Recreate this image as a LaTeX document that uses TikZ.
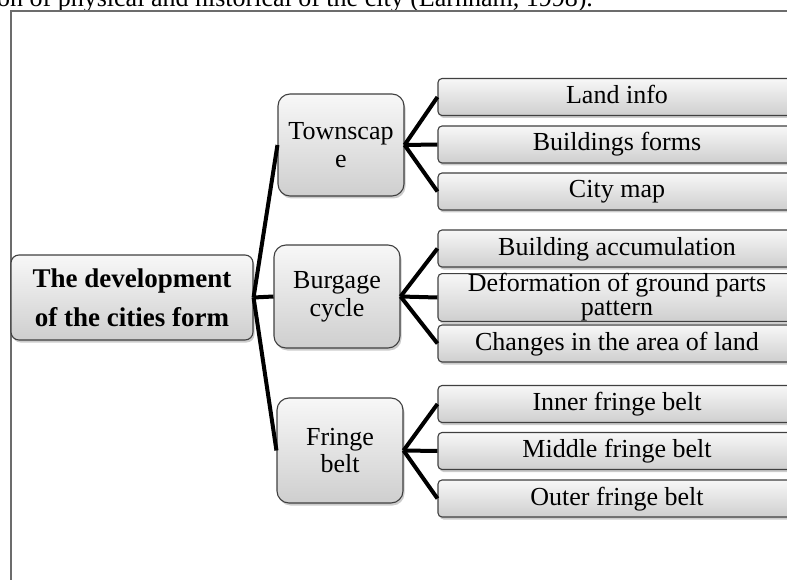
\documentclass[tikz,border=0pt]{standalone}
\usepackage{fontspec}
\setmainfont{Liberation Serif}
\usetikzlibrary{shadows}
\begin{document}
\begin{tikzpicture}[x=1pt,y=-1pt,
  basebox/.style={draw=black!75, line width=1.1pt, top color=gray!6, bottom color=gray!38,
    drop shadow={shadow xshift=1.5pt,shadow yshift=-2.5pt,opacity=0.4},
    align=center, inner sep=0pt},
  rootbox/.style={basebox, rounded corners=8pt, minimum width=242pt, minimum height=85pt,
    font=\fontsize{27}{39}\selectfont\bfseries},
  midbox/.style={basebox, rounded corners=12pt, minimum width=126pt, minimum height=102pt,
    font=\fontsize{26}{26}\selectfont},
  leafbox/.style={basebox, rounded corners=4pt, minimum width=358pt, minimum height=37pt,
    font=\fontsize{26}{24}\selectfont},
  leaftext/.style={text height=18pt, text depth=5pt},
  conn/.style={line width=4pt, black}
]
\useasboundingbox (0,0) rectangle (787,580);
\clip (0,0) rectangle (787,580);

% caption fragment and frame
\node[anchor=base west, inner sep=0pt, font=\fontsize{26}{30}\selectfont] (cap) at (-3,7)
  {on of physical and historical of the city (Earnham, 1998).};
\draw[gray!85!black, line width=1.4pt] (11,585) -- (11,11) -- (790,11);

% nodes
\node[rootbox] (root) at (132,297.5) {The development\\of the cities form};

\node[midbox] (town) at (341,145) {Townscap\\[2pt]e};
\node[midbox, minimum height=103pt] (burg) at (337,296.5) {Burgage\\[2pt]cycle};
\node[midbox, minimum height=105pt] (fring) at (340,450.5) {Fringe\\[1pt]belt};

\node[leafbox, leaftext] (l1) at (617,97) {Land info};
\node[leafbox, leaftext] (l2) at (617,144.5) {Buildings forms};
\node[leafbox, leaftext] (l3) at (617,191.5) {City map};

\node[leafbox, leaftext] (b1) at (617,248.5) {Building accumulation};
\node[leafbox] (b2) at (617,297.5) {Deformation of ground parts\\pattern};
\node[leafbox, leaftext] (b3) at (617,343.5) {Changes in the area of land};

\node[leafbox, leaftext] (f1) at (617,404) {Inner fringe belt};
\node[leafbox, leaftext] (f2) at (617,451) {Middle fringe belt};
\node[leafbox, leaftext] (f3) at (617,498.5) {Outer fringe belt};

% connectors
\draw[conn] (root.east) -- (town.west);
\draw[conn] (root.east) -- (burg.west);
\draw[conn] (root.east) -- (fring.west);

\foreach \m/\a/\b/\c in {town/l1/l2/l3, burg/b1/b2/b3, fring/f1/f2/f3}{
  \draw[conn] (\m.east) -- (\a.west);
  \draw[conn] (\m.east) -- (\b.west);
  \draw[conn] (\m.east) -- (\c.west);
}
\end{tikzpicture}
\end{document}
